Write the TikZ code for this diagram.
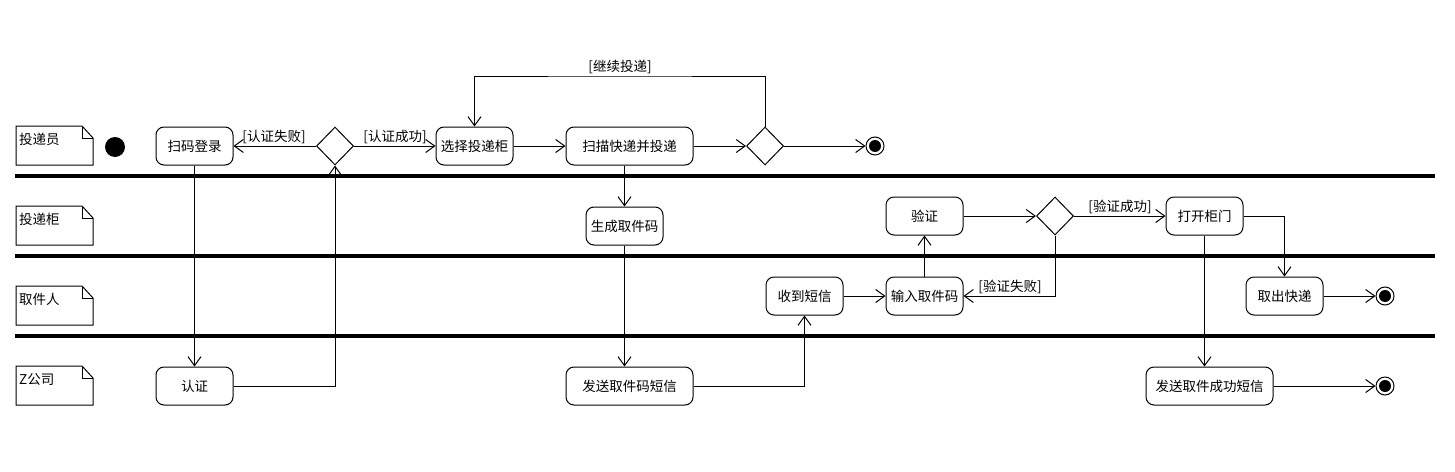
\documentclass[tikz,border=0pt]{standalone}
\usepackage{fontspec}
\setmainfont{Noto Sans CJK SC}
\usetikzlibrary{arrows.meta,shapes.geometric}
\begin{document}
\begin{tikzpicture}[x=1pt,y=-1pt,
  font=\fontsize{13.5}{16}\selectfont,
  act/.style={draw,line width=1pt,rounded corners=8pt,minimum height=38pt,inner sep=2pt},
  dec/.style={draw,line width=1pt,diamond,minimum width=37pt,minimum height=38pt,inner sep=0pt},
  fin/.style={draw,circle,line width=1pt,minimum size=18pt,inner sep=0pt,
    path picture={\fill (path picture bounding box.center) circle (6pt);}},
  arr/.style={line width=1pt,-{Straight Barb[length=9pt,width=13pt,line width=1pt]}},
  lane/.style={line width=3.5pt},
  note/.style={line width=1pt},
  glabel/.style={inner sep=1pt}
]
\useasboundingbox (0,0) rectangle (1455,471);

% swimlane separators
\draw[lane] (15,176) -- (1435,176);
\draw[lane] (15,256) -- (1435,256);
\draw[lane] (15,336) -- (1435,336);

% lane notes
\foreach \yy/\txt/\nm in {126/投递员/n1,206/投递柜/n2,286/取件人/n3,366/Z公司/n4}{
  \draw[note] (16,\yy) -- (82,\yy) -- (93,\yy+12) -- (93,\yy+39) -- (16,\yy+39) -- cycle;
  \draw[note] (82,\yy) -- (82,\yy+12) -- (93,\yy+12);
  \node[anchor=west,inner sep=0pt] (\nm) at (19,\yy+13) {\txt};
}

% nodes
\fill (115,147) circle (10pt);
\node[act,minimum width=77pt] (login) at (194.5,146) {扫码登录};
\node[dec] (d1) at (335,146) {};
\node[act,minimum width=77pt] (select) at (474.5,146) {选择投递柜};
\node[act,minimum width=127pt] (scan) at (629.5,146) {扫描快递并投递};
\node[dec] (d2) at (765,146) {};
\node[fin] (f0) at (875,146) {};
\coordinate (loopc) at (620,76);

\node[act,minimum width=77pt] (gen) at (624.5,226) {生成取件码};
\node[act,minimum width=77pt] (verify) at (924.5,216) {验证};
\node[dec] (d3) at (1055,216) {};
\node[act,minimum width=77pt] (open) at (1204.5,216) {打开柜门};

\node[act,minimum width=77pt] (recv) at (804.5,296) {收到短信};
\node[act,minimum width=77pt] (input) at (924.5,296) {输入取件码};
\node[act,minimum width=77pt] (take) at (1284.5,296) {取出快递};
\node[fin] (f1) at (1385,296) {};

\node[act,minimum width=77pt] (auth) at (194.5,386) {认证};
\node[act,minimum width=127pt] (sms1) at (629.5,386) {发送取件码短信};
\node[act,minimum width=127pt] (sms2) at (1209.5,386) {发送取件成功短信};
\node[fin] (f2) at (1385,386) {};

% connectors
\draw[arr] (d1.west) -- (login.east);
\node[glabel] (l1) at (274,137) {[认证失败]};
\draw[arr] (d1.east) -- (select.west);
\node[glabel] (l2) at (395,137) {[认证成功]};
\draw[arr] (select.east) -- (scan.west);
\draw[arr] (scan.east) -- (d2.west);
\draw[arr] (d2.east) -- (f0.west);
\draw[arr] (d2.north) |- (loopc) -| (select.north);
\node[glabel] (l3) at (620,67) {[继续投递]};

\draw[arr] (login.south) -- (auth.north);
\draw[arr] (auth.east) -| (d1.south);

\draw[arr] (scan.south -| gen.north) -- (gen.north);
\draw[arr] (gen.south) -- (gen.south |- sms1.north);
\draw[arr] (sms1.east) -| (recv.south);
\draw[arr] (recv.east) -- (input.west);
\draw[arr] (input.north) -- (verify.south);
\draw[arr] (verify.east) -- (d3.west);
\draw[arr] (d3.east) -- (open.west);
\node[glabel] (l4) at (1120,207) {[验证成功]};
\draw[arr] (d3.south) |- (input.east);
\node[glabel] (l5) at (1010,287) {[验证失败]};
\draw[arr] (open.east) -| (take.north);
\draw[arr] (open.south) -- (open.south |- sms2.north);
\draw[arr] (take.east) -- (f1.west);
\draw[arr] (sms2.east) -- (f2.west);
\end{tikzpicture}
\end{document}
